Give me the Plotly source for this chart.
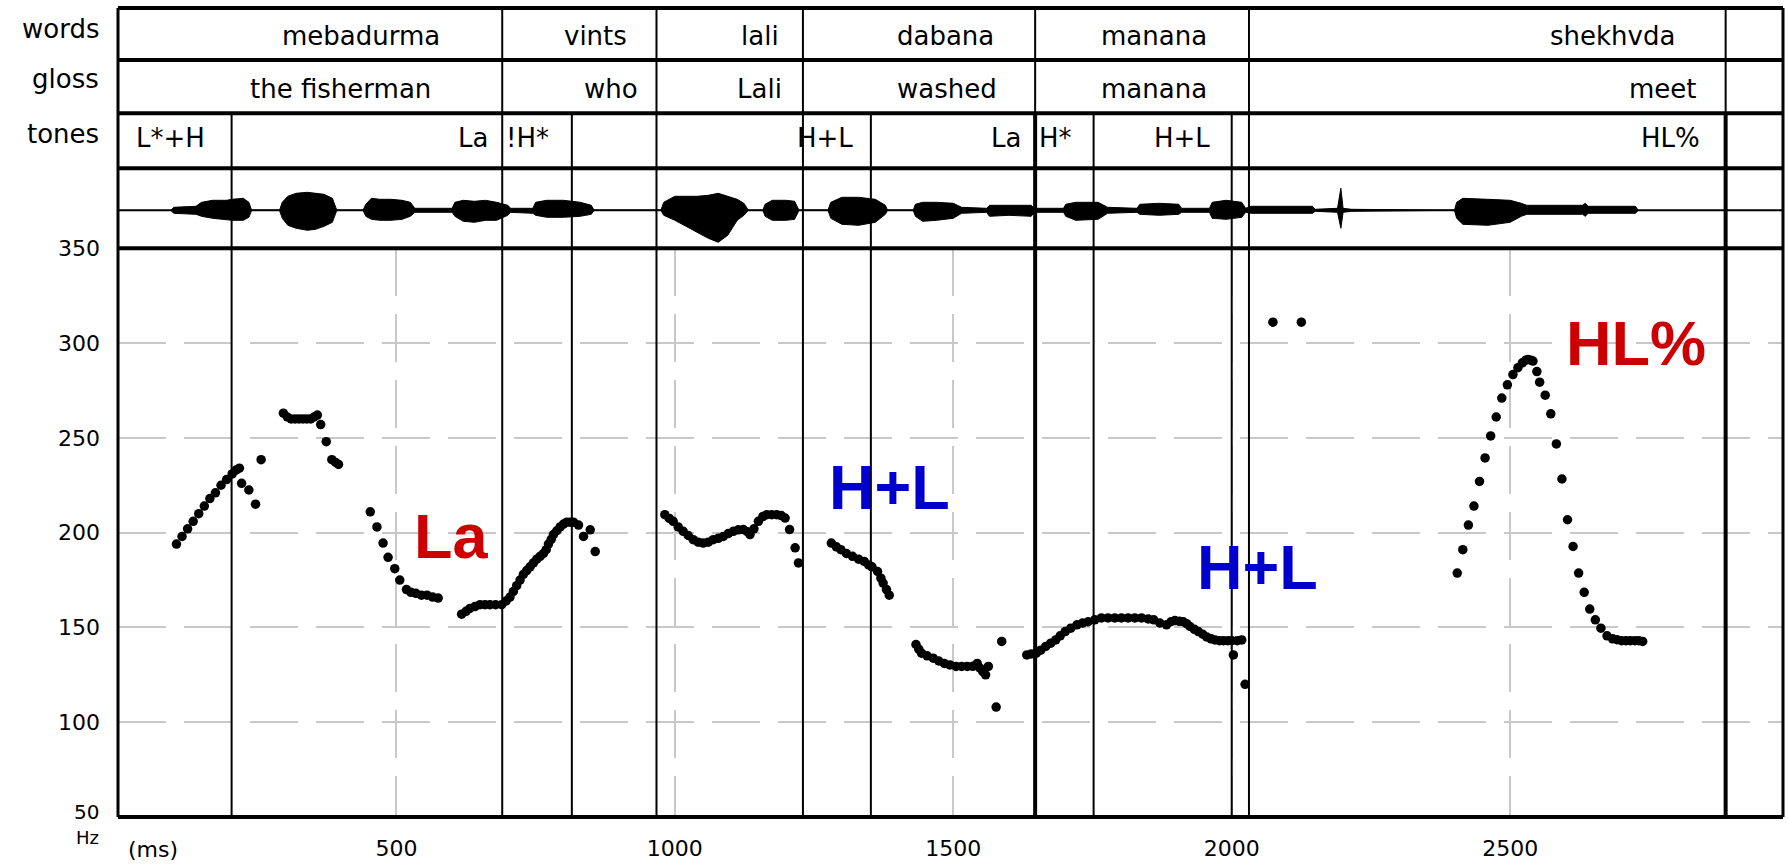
import plotly.graph_objects as go

# ---------------- data ----------------
WORDS = ["mebadurma", "vints", "lali", "dabana", "manana", "shekhvda"]
WORDS_X = [436, 857, 1153, 1486, 1860, 2684]
GLOSS = ["the fisherman", "who", "Lali", "washed", "manana", "meet"]
GLOSS_X = [400, 886, 1152, 1489, 1860, 2775]
TONES = ["L*+H", "La", "!H*", "H+L", "La", "H*", "H+L", "HL%"]
TONES_X = [94, 638, 735, 1269, 1594, 1684, 1911, 2788]
WORD_BOUNDS = [690, 967, 1230, 1647, 2031, 2887]
TONE_BOUNDS = [204, 815, 1352, 1752, 2000]
THICK_BOUNDS = [1647, 2887]
TIME_END = 2990

XTICKS = [500, 1000, 1500, 2000, 2500]
YTICKS = [50, 100, 150, 200, 250, 300, 350]

F0_MS = [
    105, 115, 125, 135, 145, 155, 165, 175, 185, 195, 205, 212, 218, 222, 235, 247, 257,
    297, 304, 311, 318, 325, 332, 339, 346, 352, 358, 364, 374, 384, 391, 396,
    453, 465, 476, 485, 497, 506, 518, 526, 535, 545, 555, 565, 575,
    617, 625, 632, 641, 650, 659, 668, 678, 689, 697, 704, 710, 716, 722, 728, 734, 740,
    746, 752, 758, 764, 769, 773, 778, 782, 788, 794, 800, 806, 812, 818, 827, 836, 848, 857,
    982, 990, 997, 1006, 1015, 1024, 1033, 1042, 1051, 1060, 1069, 1078, 1087, 1096, 1105,
    1114, 1123, 1130, 1135, 1142, 1150, 1158, 1165, 1174, 1183, 1191, 1198, 1206, 1216, 1222,
    1281, 1290, 1298, 1308, 1319, 1330, 1340, 1348, 1354, 1364, 1370, 1374, 1380, 1385,
    1433, 1438, 1443, 1453, 1464, 1474, 1484, 1494, 1505, 1515, 1525, 1535, 1543, 1548,
    1553, 1558, 1563, 1577, 1587,
    1632, 1640, 1649, 1657, 1666, 1675, 1684, 1692, 1701, 1711, 1722, 1732, 1742, 1754,
    1766, 1778, 1790, 1802, 1814, 1826, 1838, 1850, 1860, 1871, 1883, 1891, 1898, 1906,
    1913, 1919, 1925, 1933, 1940, 1948, 1955, 1963, 1970, 1978, 1985, 1993, 2000, 2010,
    2018, 2003, 2024,
    2074, 2125,
    2405, 2415, 2425, 2435, 2445, 2455, 2465, 2475, 2485, 2495, 2505, 2514, 2522, 2528,
    2532, 2537, 2541, 2548, 2553, 2563, 2573, 2583, 2593, 2603, 2613, 2623, 2633, 2643,
    2653, 2663, 2674, 2684, 2692, 2700, 2708, 2716, 2724, 2731, 2738,
]
F0_HZ = [
    194, 198, 202, 206, 210, 214, 218, 221, 225, 228, 231, 233, 234, 226, 222.5, 215, 238.5,
    263, 261, 260, 260, 260, 260, 260, 260, 261, 262, 257, 248, 238.5, 237, 236,
    211, 203, 194.5, 187, 181, 175, 170, 168.5, 168, 167, 167, 166, 165.5,
    157, 158.5, 160, 161, 162, 162, 162, 162, 162, 164, 166, 169, 172, 175, 178, 180, 182,
    184, 186, 187.5, 189, 191, 194, 196.5, 199, 201, 203, 204.5, 205.5, 205.5, 205.5, 204, 198, 201.5, 190,
    209.5, 207.5, 206, 203, 200.7, 198.5, 196.3, 195, 194.5, 195, 196.3, 197, 198, 199.5, 200.7,
    201.5, 201.6, 200.5, 199, 202, 206, 208.5, 209.5, 209.5, 209.5, 209, 207.7, 201.6, 192, 184,
    194.5, 192.5, 191, 189, 187.5, 186, 184.8, 183, 182, 179.5, 176, 173.4, 170, 167,
    141, 138.5, 136.4, 135, 133.8, 132.3, 131, 130.2, 129.4, 129.4, 129.4, 129.5, 131, 128.5,
    126.7, 125, 129.4, 108, 142.6,
    135.5, 136, 136.4, 138, 140, 141.7, 143.4, 145.6, 147.8, 149.6, 151.4, 152.3, 153, 154,
    155, 155, 155, 155, 155, 155, 155, 154.5, 154, 152.3, 151.4, 153, 153.6, 153.2,
    153, 152, 150.5, 149, 147.8, 146.4, 145, 144, 143.4, 143, 143, 143, 143, 143,
    143.4, 135.5, 120,
    311, 311,
    178.7, 191, 204, 214, 227, 239.4, 251, 261, 271, 278, 283.4, 287, 289.6, 291,
    291.4, 291, 290.5, 285, 279.4, 272.5, 262.7, 246.8, 228.3, 206.8, 192.7, 178.7, 168.5, 159.7,
    154, 149.6, 145.6, 144, 143.5, 143, 143, 143, 143, 143, 142.6,
]

WAVE_MS = [
    95, 100, 140, 150, 170, 195, 205, 225, 235, 240,
    290, 295, 305, 320, 340, 355, 370, 385, 393,
    440, 445, 455, 470, 490, 510, 525, 533,
    600, 605, 620, 640, 660, 680, 700, 705,
    745, 750, 770, 800, 830, 850, 855,
    975, 980, 1000, 1020, 1040, 1060, 1078, 1095, 1112, 1124, 1132,
    1158, 1162, 1175, 1200, 1215, 1223,
    1275, 1280, 1300, 1330, 1360, 1378, 1382,
    1428, 1432, 1445, 1470, 1500, 1515, 1560, 1565, 1600, 1640, 1645,
    1698, 1702, 1720, 1760, 1777, 1830, 1835, 1870, 1905, 1910,
    1960, 1965, 1990, 2018, 2025, 2035, 2145, 2150, 2190, 2196, 2200, 2215,
    2400, 2404, 2415, 2460, 2500, 2520, 2530, 2630, 2635, 2640, 2725, 2730,
]
WAVE_UP = [
    0, 3, 4, 8, 10, 10, 11, 12, 8, 0,
    0, 8, 14, 17, 18, 17, 16, 12, 0,
    0, 6, 12, 11, 11, 10, 8, 2,
    2, 8, 10, 9, 10, 8, 5, 2,
    2, 8, 10, 10, 8, 5, 0,
    0, 8, 14, 14, 14, 15, 17, 14, 11, 7, 0,
    0, 6, 10, 10, 9, 0,
    0, 8, 13, 13, 11, 5, 0,
    0, 6, 8, 8, 7, 3, 2, 5, 5, 5, 2,
    2, 6, 8, 8, 3, 2, 6, 7, 6, 2,
    2, 8, 10, 8, 2, 4, 4, 1, 2, 22, 2, 1,
    0, 8, 12, 11, 10, 7, 5, 5, 7, 4, 4, 0,
]
WAVE_LO = [
    0, 3, 4, 6, 8, 9, 10, 10, 7, 0,
    0, 8, 15, 18, 20, 19, 16, 12, 0,
    0, 6, 9, 10, 10, 9, 6, 2,
    2, 6, 11, 12, 10, 10, 5, 2,
    3, 5, 7, 7, 6, 4, 0,
    0, 5, 10, 16, 22, 28, 32, 25, 10, 5, 0,
    0, 6, 10, 10, 9, 0,
    0, 8, 14, 15, 12, 4, 0,
    0, 6, 11, 10, 8, 3, 2, 6, 5, 6, 2,
    2, 6, 10, 9, 3, 2, 4, 5, 4, 2,
    2, 8, 9, 7, 2, 3, 3, 1, 2, 18, 2, 1,
    0, 8, 14, 15, 12, 6, 4, 4, 6, 3, 3, 0,
]

BIG_LABELS = ["La", "H+L", "H+L", "HL%"]
BIG_X = [598, 1386, 2046, 2726]
BIG_Y = [198, 224, 182, 300]
RED = "#cc0000"
BLUE = "#0000cc"
BIG_COLORS = [RED, BLUE, BLUE, RED]

# ---------------- layout helpers ----------------
W, H = 1788, 864
ML, MR, MT, MB = 118, 5, 8, 47
PH = H - MT - MB
PW = W - ML - MR


def py(px):
    return (H - MB - px) / PH


def pxp(px):
    return (px - ML) / PW


Y_TOP = py(8)
Y_WG = py(60)
Y_GT = py(113.3)
Y_TW = py(168.3)
Y_WF = py(248.3)

TXT = "DejaVu Sans"
GRID = "#c8c8c8"
TIER_FS = 26

fig = go.Figure()

fig.add_trace(go.Scatter(x=WAVE_MS, y=WAVE_UP, mode="lines", xaxis="x2", yaxis="y2",
                         line=dict(color="black", width=1), hoverinfo="skip", showlegend=False))
fig.add_trace(go.Scatter(x=WAVE_MS, y=[-v for v in WAVE_LO], mode="lines", xaxis="x2", yaxis="y2",
                         fill="tonexty", fillcolor="black",
                         line=dict(color="black", width=1), hoverinfo="skip", showlegend=False))

fig.add_trace(go.Scatter(x=F0_MS, y=F0_HZ, mode="markers",
                         marker=dict(color="black", size=9.5, symbol="circle", line=dict(width=0)),
                         showlegend=False))

shapes = []
for yy in [Y_TOP, Y_WG, Y_GT, Y_TW, Y_WF, 0]:
    shapes.append(dict(type="line", xref="paper", yref="paper", x0=0, x1=1, y0=yy, y1=yy,
                       line=dict(color="black", width=4)))
for xx in [0, 1]:
    shapes.append(dict(type="line", xref="paper", yref="paper", x0=xx, x1=xx, y0=0, y1=Y_TOP,
                       line=dict(color="black", width=3)))
shapes.append(dict(type="line", xref="paper", yref="y2", x0=0, x1=1, y0=0, y1=0,
                   line=dict(color="black", width=2)))
for b in WORD_BOUNDS:
    w = 4 if b in THICK_BOUNDS else 2
    shapes.append(dict(type="line", xref="x", yref="paper", x0=b, x1=b, y0=Y_GT, y1=Y_TOP,
                       line=dict(color="black", width=2)))
    shapes.append(dict(type="line", xref="x", yref="paper", x0=b, x1=b, y0=0, y1=Y_GT,
                       line=dict(color="black", width=w)))
for b in TONE_BOUNDS:
    shapes.append(dict(type="line", xref="x", yref="paper", x0=b, x1=b, y0=0, y1=Y_GT,
                       line=dict(color="black", width=2)))

ann = []
for labels, xs, ypx in [(WORDS, WORDS_X, 36), (GLOSS, GLOSS_X, 89), (TONES, TONES_X, 138)]:
    for t, x in zip(labels, xs):
        ann.append(dict(text=t, x=x, y=py(ypx), xref="x", yref="paper", showarrow=False,
                        xanchor="center", yanchor="middle",
                        font=dict(family=TXT, size=TIER_FS, color="black")))
for t, yy in zip(["words", "gloss", "tones"], [29, 79, 134]):
    ann.append(dict(text=t, x=pxp(101), y=py(yy), xref="paper", yref="paper", showarrow=False,
                    xanchor="right", yanchor="middle", font=dict(family=TXT, size=TIER_FS, color="black")))
for t, x, y, c in zip(BIG_LABELS, BIG_X, BIG_Y, BIG_COLORS):
    ann.append(dict(text="<b>%s</b>" % t, x=x, y=y, xref="x", yref="y", showarrow=False,
                    xanchor="center", yanchor="middle",
                    font=dict(family="Liberation Sans, Arial", size=63, color=c)))
ann.append(dict(text="(ms)", x=63, y=py(849), xref="x", yref="paper", showarrow=False,
                xanchor="center", yanchor="middle", font=dict(family=TXT, size=22, color="black")))
ann.append(dict(text=str(YTICKS[0]), x=pxp(101), y=py(826), xref="paper", yref="paper", showarrow=False,
                xanchor="right", yanchor="bottom", font=dict(family=TXT, size=20, color="black")))
ann.append(dict(text="Hz", x=pxp(101), y=py(825), xref="paper", yref="paper", showarrow=False,
                xanchor="right", yanchor="top", font=dict(family=TXT, size=18, color="black")))

fig.update_layout(
    template="none",
    width=W, height=H, autosize=False,
    margin=dict(l=ML, r=MR, t=MT, b=MB, pad=0, autoexpand=False),
    paper_bgcolor="white", plot_bgcolor="white",
    shapes=shapes, annotations=ann, showlegend=False,
    xaxis=dict(domain=[0, 1], range=[0, TIME_END], anchor="y", automargin=False,
               tickvals=XTICKS, ticktext=[str(v) for v in XTICKS], ticks="",
               tickfont=dict(family=TXT, size=22, color="black"), ticklabelstandoff=16,
               showgrid=True, gridcolor=GRID, gridwidth=2, griddash="48px,18px",
               zeroline=False, showline=False, fixedrange=True),
    yaxis=dict(domain=[0, Y_WF], range=[50, 350], anchor="x", automargin=False,
               tickvals=YTICKS, ticktext=[""] + [str(v) for v in YTICKS[1:]], ticks="",
               tickfont=dict(family=TXT, size=22, color="black"), ticklabelstandoff=17,
               showgrid=True, gridcolor=GRID, gridwidth=2, griddash="48px,18px",
               zeroline=False, showline=False, fixedrange=True),
    xaxis2=dict(domain=[0, 1], matches="x", anchor="y2", visible=False, showgrid=False,
                automargin=False),
    yaxis2=dict(domain=[Y_WF, Y_TW], range=[-38, 42], anchor="x2", visible=False,
                showgrid=False, zeroline=False, automargin=False),
)

fig.write_html("out.html", config={"displayModeBar": False},
               post_script="document.body.style.margin='0px';document.body.style.overflow='hidden';")
